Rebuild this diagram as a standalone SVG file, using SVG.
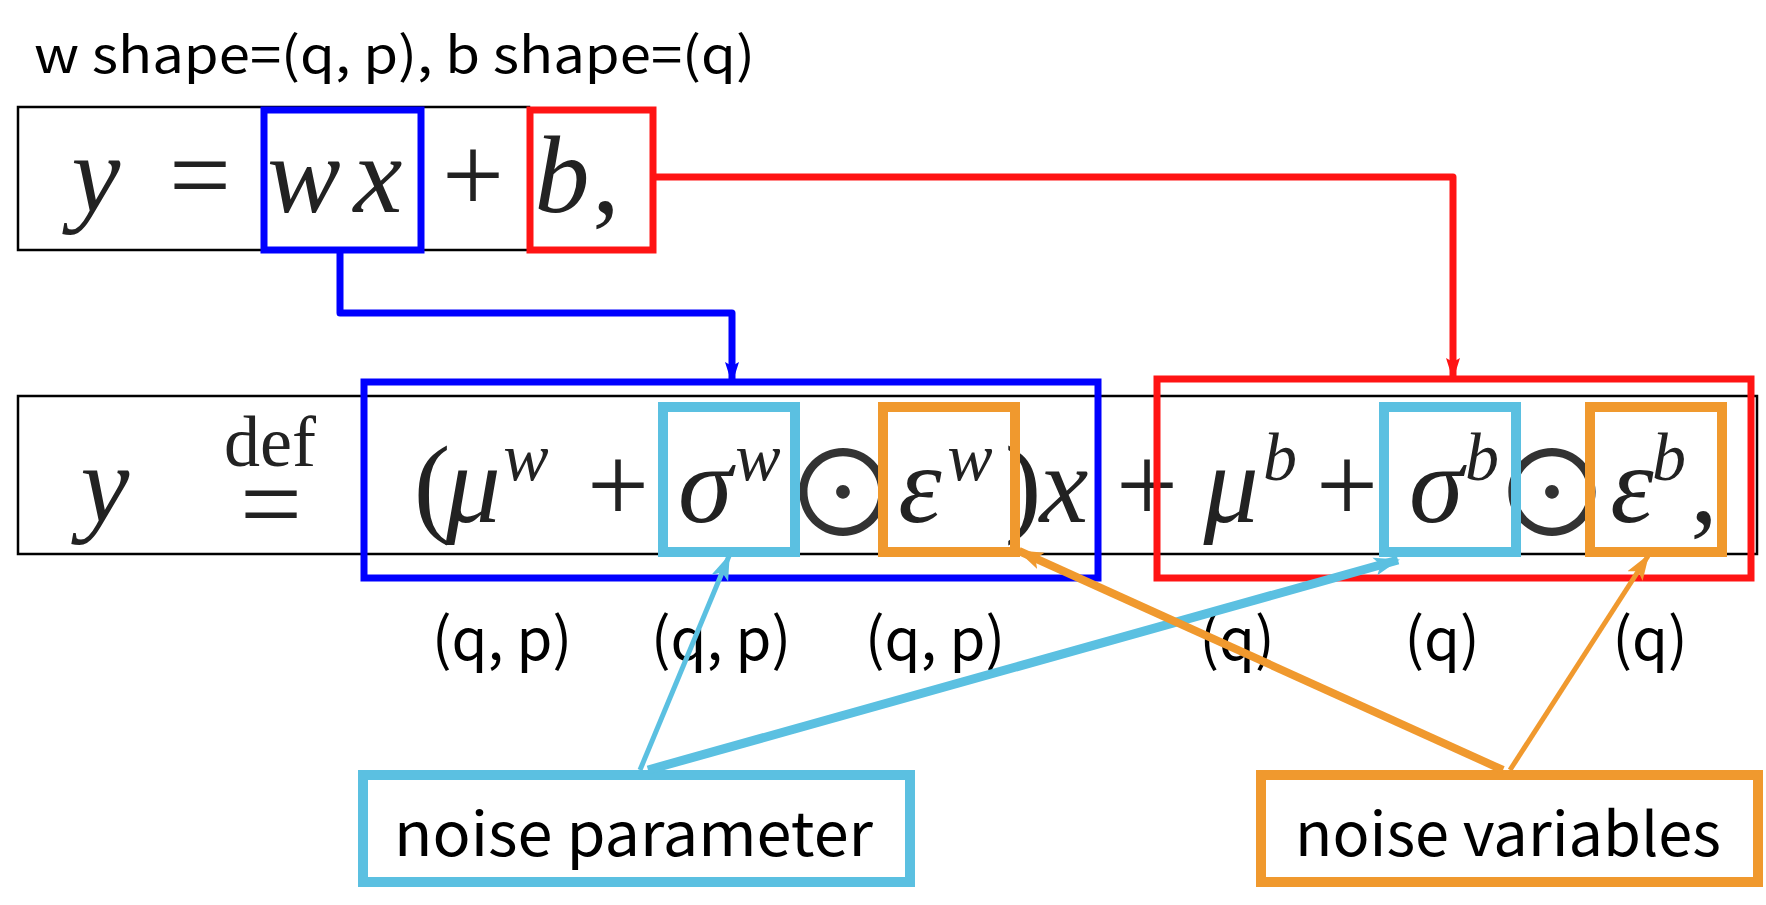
<svg xmlns="http://www.w3.org/2000/svg" width="1766" height="905" viewBox="0 0 1766 905">
<defs>
<style>
.lbl{font-family:"Noto Sans CJK KR","Noto Sans",sans-serif;fill:#000}
.m{font-family:"Liberation Serif",serif;font-style:italic;fill:#222}
.r{font-family:"Liberation Serif",serif;fill:#222}
.op{font-family:"Noto Sans CJK KR","DejaVu Sans",sans-serif;fill:#333}
.frame{fill:none;stroke:#000;stroke-width:2.5}
.blue{fill:none;stroke:#0000ff;stroke-width:7}
.red{fill:none;stroke:#ff1414;stroke-width:7}
.lb{fill:none;stroke:#5bc0e1;stroke-width:10}
.or{fill:none;stroke:#f0992e;stroke-width:10}
</style>
<marker id="aB" markerUnits="userSpaceOnUse" markerWidth="22" markerHeight="18" refX="20" refY="9" orient="auto"><path d="M0,2 L22,9 L0,16 L4,9 Z" fill="#0000ff"/></marker>
<marker id="aR" markerUnits="userSpaceOnUse" markerWidth="22" markerHeight="18" refX="20" refY="9" orient="auto"><path d="M0,2 L22,9 L0,16 L4,9 Z" fill="#ff1414"/></marker>
<marker id="aL" markerUnits="userSpaceOnUse" markerWidth="26" markerHeight="22" refX="24" refY="11" orient="auto"><path d="M0,2 L26,11 L0,20 L6,11 Z" fill="#5bc0e1"/></marker>
<marker id="aO" markerUnits="userSpaceOnUse" markerWidth="26" markerHeight="22" refX="24" refY="11" orient="auto"><path d="M0,2 L26,11 L0,20 L6,11 Z" fill="#f0992e"/></marker>
</defs>
<rect width="1766" height="905" fill="#fff"/>

<text class="lbl" x="34" y="73" font-size="50" textLength="721" lengthAdjust="spacingAndGlyphs">w shape=(q, p), b shape=(q)</text>

<g id="eq-top">
<rect class="frame" x="18" y="107" width="511" height="143"/>
<text class="m" x="96" y="212" font-size="110" text-anchor="middle">y</text>
<text class="r" x="200" y="212" font-size="110" text-anchor="middle">=</text>
<text class="m" x="304" y="212" font-size="110" text-anchor="middle">w</text>
<text class="m" x="378" y="212" font-size="110" text-anchor="middle">x</text>
<text class="r" x="473" y="212" font-size="110" text-anchor="middle">+</text>
<text class="m" x="562" y="212" font-size="110" text-anchor="middle">b</text>
<text class="r" x="606" y="212" font-size="110" text-anchor="middle">,</text>
</g>
<g id="box-wx"><rect class="blue" x="264" y="110" width="157" height="140"/></g>
<g id="box-b"><rect class="red" x="530" y="110" width="123" height="140"/></g>

<g id="eq-bottom">
<rect class="frame" x="18" y="396" width="1739" height="158"/>
<text class="m" x="105" y="522" font-size="110" text-anchor="middle">y</text>
<text class="r" x="270" y="466" font-size="72" text-anchor="middle">def</text>
<text class="r" x="271" y="541" font-size="110" text-anchor="middle">=</text>
<text class="r" x="432" y="522" font-size="110" text-anchor="middle">(</text>
<text class="m" x="473" y="522" font-size="110" text-anchor="middle">μ</text>
<text class="m" x="526" y="480" font-size="68" text-anchor="middle">w</text>
<text class="r" x="618" y="522" font-size="110" text-anchor="middle">+</text>
<text class="m" x="705" y="522" font-size="110" text-anchor="middle">σ</text>
<text class="m" x="758" y="480" font-size="68" text-anchor="middle">w</text>
<text class="op" x="843" y="537" font-size="118" text-anchor="middle">⊙</text>
<text class="m" x="920" y="522" font-size="110" text-anchor="middle">ε</text>
<text class="m" x="970" y="480" font-size="68" text-anchor="middle">w</text>
<text class="r" x="1023" y="522" font-size="110" text-anchor="middle">)</text>
<text class="m" x="1064" y="522" font-size="110" text-anchor="middle">x</text>
<text class="r" x="1147" y="522" font-size="110" text-anchor="middle">+</text>
<text class="m" x="1231" y="522" font-size="110" text-anchor="middle">μ</text>
<text class="m" x="1280" y="480" font-size="68" text-anchor="middle">b</text>
<text class="r" x="1347" y="522" font-size="110" text-anchor="middle">+</text>
<text class="m" x="1436" y="522" font-size="110" text-anchor="middle">σ</text>
<text class="m" x="1482" y="480" font-size="68" text-anchor="middle">b</text>
<text class="op" x="1552" y="537" font-size="118" text-anchor="middle">⊙</text>
<text class="m" x="1632" y="522" font-size="110" text-anchor="middle">ε</text>
<text class="m" x="1669" y="480" font-size="68" text-anchor="middle">b</text>
<text class="r" x="1704" y="522" font-size="110" text-anchor="middle">,</text>
</g>

<g id="box-w-term"><rect class="blue" x="364" y="382" width="734" height="196"/></g>
<g id="box-b-term"><rect class="red" x="1157" y="379" width="594" height="199"/></g>
<g id="box-sigma-w"><rect class="lb" x="663" y="407" width="132" height="145"/></g>
<g id="box-eps-w"><rect class="or" x="883" y="407" width="132" height="145"/></g>
<g id="box-sigma-b"><rect class="lb" x="1384" y="407" width="132" height="145"/></g>
<g id="box-eps-b"><rect class="or" x="1590" y="407" width="132" height="145"/></g>

<g id="shapes">
<text class="lbl" x="502" y="660" font-size="58" text-anchor="middle">(q, p)</text>
<text class="lbl" x="721" y="660" font-size="58" text-anchor="middle">(q, p)</text>
<text class="lbl" x="935" y="660" font-size="58" text-anchor="middle">(q, p)</text>
<text class="lbl" x="1237" y="660" font-size="58" text-anchor="middle">(q)</text>
<text class="lbl" x="1442" y="660" font-size="58" text-anchor="middle">(q)</text>
<text class="lbl" x="1650" y="660" font-size="58" text-anchor="middle">(q)</text>
</g>

<g id="noise-parameter">
<rect class="lb" x="363" y="775" width="547" height="107"/>
<text class="lbl" x="394" y="856" font-size="60" textLength="479" lengthAdjust="spacingAndGlyphs">noise parameter</text>
</g>
<g id="noise-variables">
<rect class="or" x="1261" y="775" width="497" height="107"/>
<text class="lbl" x="1295" y="856" font-size="60" textLength="426" lengthAdjust="spacingAndGlyphs">noise variables</text>
</g>

<g id="connectors" fill="none" stroke-linejoin="round">
<polyline points="653,177 1453,177 1453,378" stroke="#ff1414" stroke-width="7" marker-end="url(#aR)"/>
<polyline points="340,250 340,313 732,313 732,382" stroke="#0000ff" stroke-width="7" marker-end="url(#aB)"/>
<line x1="640" y1="770" x2="729" y2="556" stroke="#5bc0e1" stroke-width="5" marker-end="url(#aL)"/>
<line x1="648" y1="770" x2="1398" y2="560" stroke="#5bc0e1" stroke-width="9" marker-end="url(#aL)"/>
<line x1="1503" y1="770" x2="1019" y2="551" stroke="#f0992e" stroke-width="8" marker-end="url(#aO)"/>
<line x1="1510" y1="770" x2="1648" y2="556" stroke="#f0992e" stroke-width="5" marker-end="url(#aO)"/>
</g>
</svg>
